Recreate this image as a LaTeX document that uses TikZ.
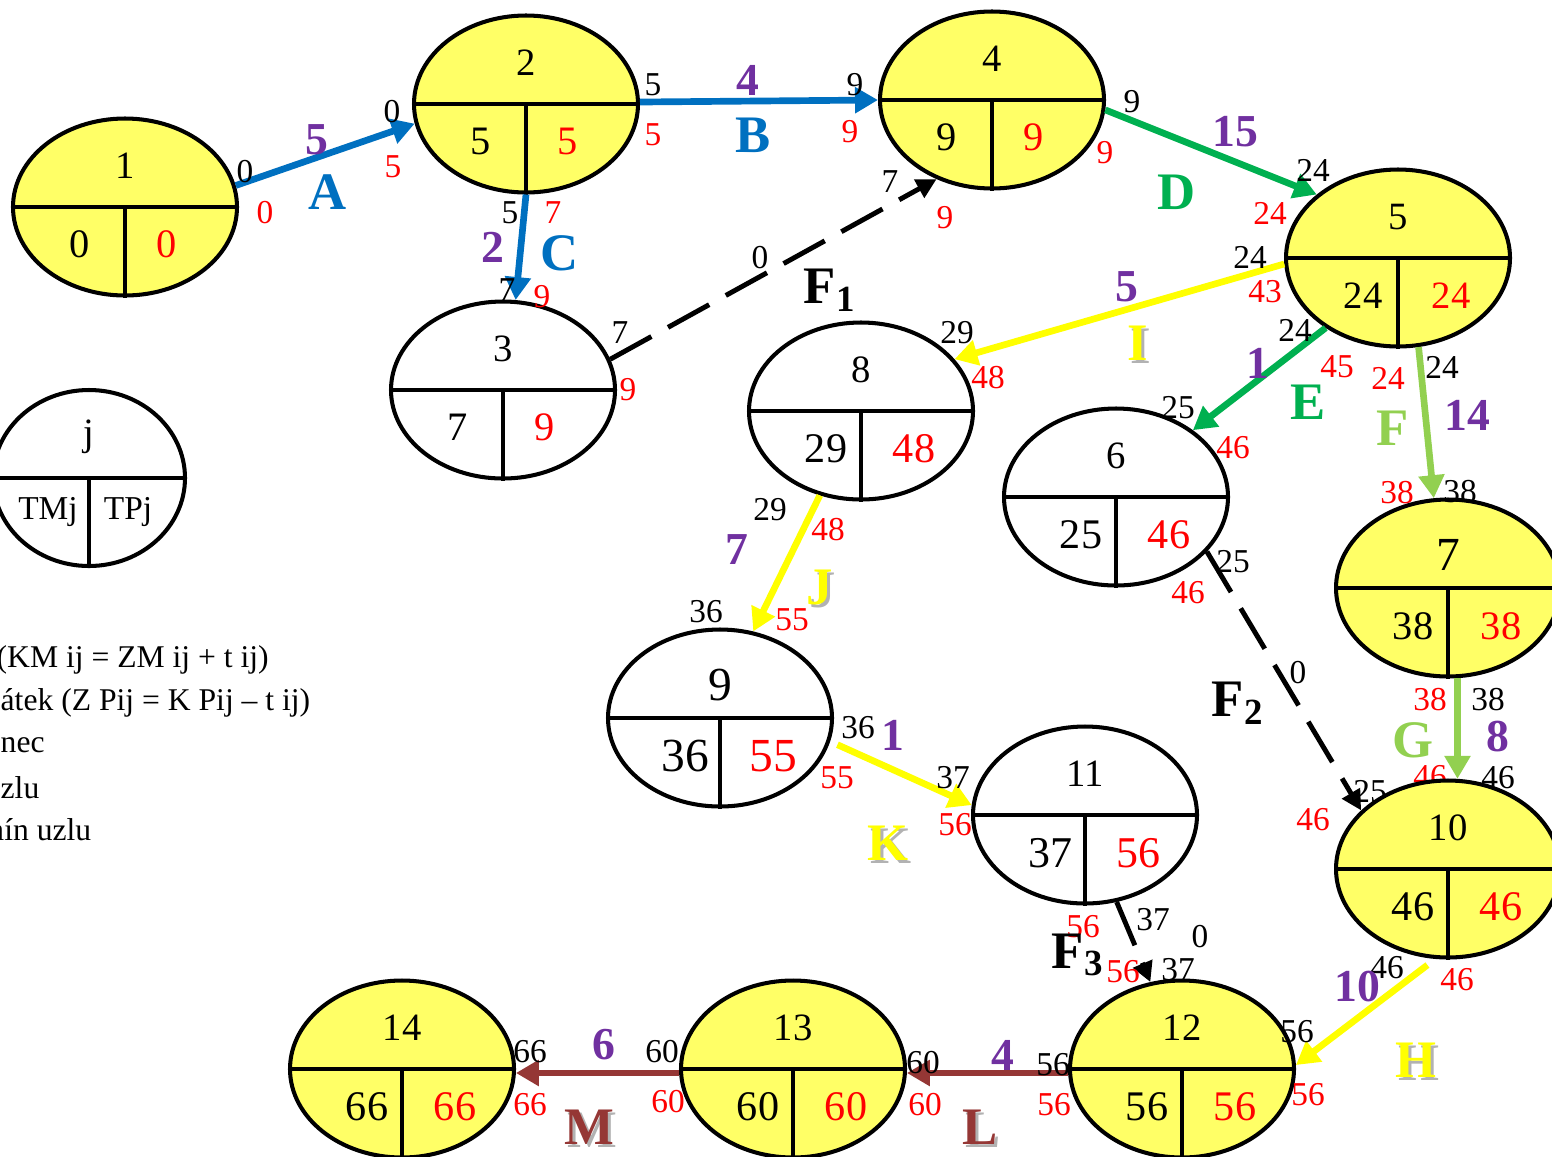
\documentclass[tikz,border=0pt]{standalone}
\usepackage{fontspec}
\setmainfont{Liberation Serif}
\usetikzlibrary{shapes.geometric,arrows.meta}
\definecolor{uzelzluta}{HTML}{FFFF66}
\definecolor{modra}{HTML}{0070C0}
\definecolor{zelena}{HTML}{00B050}
\definecolor{svzelena}{HTML}{92D050}
\definecolor{zluta}{HTML}{FFFF00}
\definecolor{hneda}{HTML}{953735}
\definecolor{fialova}{HTML}{7030A0}
\definecolor{cervena}{HTML}{FF0000}

\tikzset{
  uzel/.style={draw,ellipse,line width=1.15pt,minimum width=22.4mm,minimum height=17.7mm,inner sep=0pt},
  delic/.style={line width=1.1pt},
  hrana/.style={line width=1.9pt,-{Triangle[length=2.3mm,width=2.5mm]}},
  fikt/.style={line width=1.4pt,dash pattern=on 4.7mm off 1.9mm,-{Triangle[length=2mm,width=2mm]}},
  cislo/.style={inner sep=0pt,font=\fontsize{11}{12}\selectfont},
  velke/.style={font=\fontsize{13.5}{14}\selectfont},
  popis/.style={inner sep=0pt,font=\fontsize{9.5}{10}\selectfont},
  cas/.style={popis,text=cervena},
  doba/.style={inner sep=0pt,font=\bfseries\fontsize{13}{14}\selectfont,text=fialova},
  cinnost/.style={inner sep=0pt,font=\bfseries\fontsize{15}{16}\selectfont},
  stin/.style={cinnost,text=black!30,xshift=0.3mm,yshift=-0.3mm},
  legenda/.style={inner sep=0pt,anchor=west,font=\fontsize{9}{10}\selectfont}
}

% uzel site: jmeno, poloha, vypln, cislo, TM, TP, volby horni, volby dolni, pocet cifer
\newcommand{\sitnode}[9]{%
  \node[uzel,fill=#3] (#1) at (#2) {};
  \draw[delic] (#1.west) -- (#1.east) (#1.center) -- (#1.south);
  \node[cislo,#7] (#1-j) at ([yshift=4.1mm]#1.center) {#4};
  \ifnum#9=1
    \node[cislo,#8] (#1-tm) at ([xshift=-4.5mm,yshift=-3.7mm]#1.center) {#5};
    \node[cislo,#8,text=cervena] (#1-tp) at ([xshift=4.2mm,yshift=-3.7mm]#1.center) {#6};
  \else
    \node[cislo,#8] (#1-tm) at ([xshift=-3.5mm,yshift=-3.8mm]#1.center) {#5};
    \node[cislo,#8,text=cervena] (#1-tp) at ([xshift=5.3mm,yshift=-3.8mm]#1.center) {#6};
  \fi
}

\begin{document}
\begin{tikzpicture}[x=0.1mm,y=-0.1mm]
  \useasboundingbox (0,0) rectangle (1552,1156);
  \clip (0,0) rectangle (1552,1156);

  % popisky schovane za uzlem 10
  \node[popis] (F2-kp) at (1370,792) {25};
  \node[cas] (G-kp) at (1430,777) {46};

  % uzly
  \sitnode{n1}{125,207}{uzelzluta}{1}{0}{0}{}{font=\fontsize{11.5}{12}\selectfont}{1}
  \sitnode{n2}{526,104}{uzelzluta}{2}{5}{5}{}{font=\fontsize{11.5}{12}\selectfont}{1}
  \sitnode{n3}{503,390}{white}{3}{7}{9}{}{font=\fontsize{11.5}{12}\selectfont}{1}
  \sitnode{n4}{992,100}{uzelzluta}{4}{9}{9}{}{font=\fontsize{11.5}{12}\selectfont}{1}
  \sitnode{n5}{1398,258}{uzelzluta}{5}{24}{24}{}{}{2}
  \sitnode{n6}{1116,497}{white}{6}{25}{46}{}{font=\fontsize{12}{12}\selectfont}{2}
  \sitnode{n7}{1448,588}{uzelzluta}{7}{38}{38}{velke,yshift=-0.8mm}{font=\fontsize{11.5}{12}\selectfont}{2}
  \sitnode{n8}{861,411}{white}{8}{29}{48}{}{font=\fontsize{12}{12}\selectfont}{2}
  \sitnode{n9}{720,718}{white}{9}{36}{55}{velke,yshift=-0.8mm}{velke}{2}
  \sitnode{n10}{1448,869}{uzelzluta}{10}{46}{46}{}{font=\fontsize{12}{12}\selectfont}{2}
  \sitnode{n11}{1085,815}{white}{11}{37}{56}{}{font=\fontsize{12.5}{12}\selectfont}{2}
  \sitnode{n12}{1182,1069}{uzelzluta}{12}{56}{56}{}{font=\fontsize{12}{12}\selectfont}{2}
  \sitnode{n13}{793,1069}{uzelzluta}{13}{60}{60}{}{font=\fontsize{12}{12}\selectfont}{2}
  \sitnode{n14}{402,1069}{uzelzluta}{14}{66}{66}{}{font=\fontsize{12}{12}\selectfont}{2}

  % legenda
  \node[uzel,fill=white,minimum width=19.2mm,minimum height=17.6mm] (leg) at (89,478) {};
  \draw[delic] (leg.west) -- (leg.east) (leg.center) -- (leg.south);
  \node[cislo] (leg-j) at ([yshift=4.1mm]leg.center) {j};
  \node[popis] (leg-tm) at ([xshift=-4.1mm,yshift=-3.4mm]leg.center) {TMj};
  \node[popis] (leg-tp) at ([xshift=3.9mm,yshift=-3.4mm]leg.center) {TPj};
  \node[legenda] (leg1) at (-4,660) {(KM ij = ZM ij + t ij)};
  \node[legenda] (leg2) at (0,703) {átek (Z Pij = K Pij – t ij)};
  \node[legenda] (leg3) at (0,745) {nec};
  \node[legenda] (leg4) at (0,788) {zlu};
  \node[legenda] (leg5) at (-21,830) {mín uzlu};

  % cinnosti
  \draw[hrana,modra] (n1.11) -- (n2.190);
  \draw[hrana,modra] (n2.1) -- (n4.180);
  \draw[hrana,modra] (n2.south) -- (n3.82);
  \draw[fikt] (n3.16) -- (n4.235);
  \draw[hrana,zelena] (n4.-5) -- (n5.142);
  \draw[hrana,zluta] (n5.183) -- (n8.29);
  \draw[hrana,zelena] (n5.224) -- (n6.41);
  \draw[hrana,svzelena] (n5.283) -- (n7.99);
  \draw[hrana,zluta] (n8.244) -- (n9.69);
  \draw[hrana,zluta,shorten <=0.8mm] (n9.348) -- (n11.175);
  \draw[fikt] (n6.329) -- (n10.146);
  \draw[hrana,svzelena] (n7.276) -- (n10.84);
  \draw[fikt] (n11.290) -- (n12.110);
  \draw[hrana,zluta,shorten <=1mm] (n10.262) -- (n12.2);
  \draw[hrana,hneda] (n12.182) -- (n13.-2);
  \draw[hrana,hneda] (n13.182) -- (n14.-2);

  % A
  \node[popis] (A-zm) at (245,172) {0};
  \node[cas] (A-zp) at (265,213) {0};
  \node[doba] (A-t) at (317,140) {5};
  \node[cinnost,text=modra] (A) at (328,192) {A};
  \node[popis] (A-km) at (392,112) {0};
  \node[cas] (A-kp) at (393,167) {5};
  % B
  \node[popis] (B-zm) at (653,85) {5};
  \node[cas] (B-zp) at (653,135) {5};
  \node[doba] (B-t) at (748,80) {4};
  \node[cinnost,text=modra] (B) at (753,135) {B};
  \node[popis] (B-km) at (855,85) {9};
  \node[cas] (B-kp) at (850,132) {9};
  % C
  \node[popis] (C-zm) at (510,213) {5};
  \node[cas] (C-zp) at (553,213) {7};
  \node[doba] (C-t) at (493,247) {2};
  \node[cinnost,text=modra] (C) at (560,253) {C};
  \node[popis] (C-km) at (507,290) {7};
  \node[cas] (C-kp) at (542,297) {9};
  % F1
  \node[popis] (F1-zm) at (620,333) {7};
  \node[cas] (F1-zp) at (628,390) {9};
  \node[popis] (F1-t) at (760,258) {0};
  \node[cinnost] (F1) at (830,290) {F\textsubscript{1}};
  \node[popis] (F1-km) at (890,182) {7};
  \node[cas] (F1-kp) at (945,218) {9};
  % D
  \node[popis] (D-zm) at (1132,102) {9};
  \node[cas] (D-zp) at (1105,153) {9};
  \node[doba] (D-t) at (1235,132) {15};
  \node[cinnost,text=zelena] (D) at (1177,192) {D};
  \node[popis] (D-km) at (1313,170) {24};
  \node[cas] (D-kp) at (1270,213) {24};
  % I
  \node[popis] (I-zm) at (1250,257) {24};
  \node[cas] (I-zp) at (1265,292) {43};
  \node[doba] (I-t) at (1127,287) {5};
  \node[stin] (I-stin) at (1138,343) {I};
  \node[cinnost,text=zluta] (I) at (1138,343) {I};
  \node[popis] (I-km) at (957,333) {29};
  \node[cas] (I-kp) at (988,378) {48};
  % E
  \node[popis] (E-zm) at (1295,330) {24};
  \node[cas] (E-zp) at (1337,367) {45};
  \node[doba] (E-t) at (1258,363) {1};
  \node[cinnost,text=zelena] (E) at (1308,402) {E};
  \node[popis] (E-km) at (1178,408) {25};
  \node[cas] (E-kp) at (1233,448) {46};
  % F
  \node[popis] (F-zm) at (1442,367) {24};
  \node[cas] (F-zp) at (1388,378) {24};
  \node[doba] (F-t) at (1467,415) {14};
  \node[cinnost,text=svzelena] (F) at (1393,428) {F};
  \node[popis] (F-km) at (1460,492) {38};
  \node[cas] (F-kp) at (1397,493) {38};
  % J
  \node[popis] (J-zm) at (770,510) {29};
  \node[cas] (J-zp) at (828,530) {48};
  \node[doba] (J-t) at (737,550) {7};
  \node[stin] (J-stin) at (820,587) {J};
  \node[cinnost,text=zluta] (J) at (820,587) {J};
  \node[popis] (J-km) at (706,612) {36};
  \node[cas] (J-kp) at (792,620) {55};
  % K
  \node[popis] (K-zm) at (858,728) {36};
  \node[cas] (K-zp) at (837,778) {55};
  \node[doba] (K-t) at (893,735) {1};
  \node[stin] (K-stin) at (888,843) {K};
  \node[cinnost,text=zluta] (K) at (888,843) {K};
  \node[popis] (K-km) at (953,778) {37};
  \node[cas] (K-kp) at (955,825) {56};
  % F2
  \node[popis] (F2-zm) at (1233,562) {25};
  \node[cas] (F2-zp) at (1188,593) {46};
  \node[popis] (F2-t) at (1298,673) {0};
  \node[cinnost] (F2) at (1238,703) {F\textsubscript{2}};
  \node[cas] (F2-kp2) at (1313,820) {46};
  % G
  \node[popis] (G-zm) at (1488,700) {38};
  \node[cas] (G-zp) at (1430,700) {38};
  \node[doba] (G-t) at (1498,737) {8};
  \node[cinnost,text=svzelena] (G) at (1413,740) {G};
  \node[popis] (G-km) at (1498,778) {46};
  % F3
  \node[popis] (F3-zm) at (1153,920) {37};
  \node[cas] (F3-zp) at (1083,927) {56};
  \node[popis] (F3-t) at (1200,937) {0};
  \node[cinnost] (F3) at (1078,955) {F\textsubscript{3}};
  \node[popis] (F3-km) at (1178,970) {37};
  \node[cas] (F3-kp) at (1123,972) {56};
  % H
  \node[popis] (H-zm) at (1387,968) {46};
  \node[cas] (H-zp) at (1457,980) {46};
  \node[doba] (H-t) at (1357,987) {10};
  \node[stin] (H-stin) at (1416,1060) {H};
  \node[cinnost,text=zluta] (H) at (1416,1060) {H};
  \node[popis] (H-km) at (1297,1032) {56};
  \node[cas] (H-kp) at (1308,1095) {56};
  % L
  \node[popis] (L-zm) at (1053,1065) {56};
  \node[cas] (L-zp) at (1054,1105) {56};
  \node[doba] (L-t) at (1003,1055) {4};
  \node[stin] (L-stin) at (980,1127) {L};
  \node[cinnost,text=hneda] (L) at (980,1127) {L};
  \node[popis] (L-km) at (923,1063) {60};
  \node[cas] (L-kp) at (925,1105) {60};
  % M
  \node[popis] (M-zm) at (662,1052) {60};
  \node[cas] (M-zp) at (668,1102) {60};
  \node[doba] (M-t) at (604,1045) {6};
  \node[stin] (M-stin) at (589,1127) {M};
  \node[cinnost,text=hneda] (M) at (589,1127) {M};
  \node[popis] (M-km) at (530,1052) {66};
  \node[cas] (M-kp) at (530,1105) {66};
\end{tikzpicture}
\end{document}
